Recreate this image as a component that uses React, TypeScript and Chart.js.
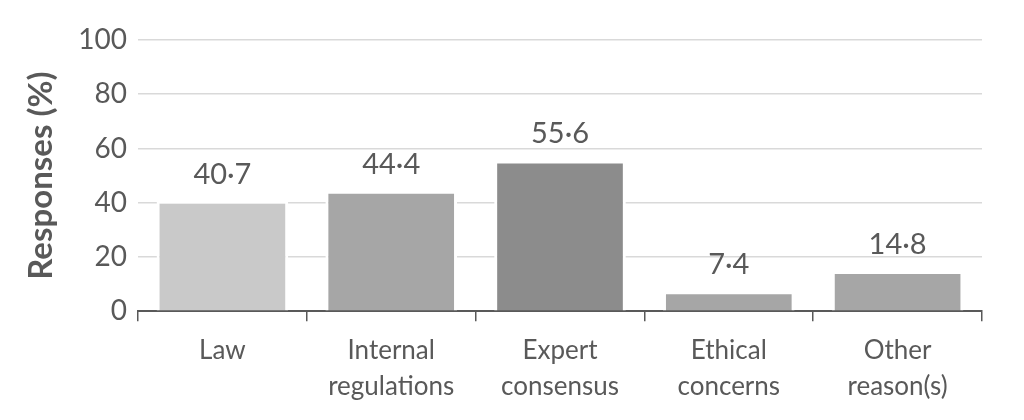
import React, { useEffect, useRef } from "react";
import { Chart, registerables } from "chart.js";

Chart.register(...registerables);

const categories: string[][] = [
  ["Law"],
  ["Internal", "regulations"],
  ["Expert", "consensus"],
  ["Ethical", "concerns"],
  ["Other", "reason(s)"],
];
const responses: number[] = [40.7, 44.4, 55.6, 7.4, 14.8];
const barColors: string[] = ["#c9c9c9", "#a6a6a6", "#8c8c8c", "#a6a6a6", "#a6a6a6"];
const yTicks: number[] = [0, 20, 40, 60, 80, 100];
const yTitle = "Responses (%)";

const FONT = "Lato, 'Open Sans', sans-serif";
const TEXT = "#595959";

const valueLabels = {
  id: "valueLabels",
  afterDatasetsDraw(chart: any) {
    const ctx = chart.ctx;
    const meta = chart.getDatasetMeta(0);
    ctx.save();
    ctx.font = `29px ${FONT}`;
    ctx.fillStyle = TEXT;
    ctx.textAlign = "center";
    ctx.textBaseline = "alphabetic";
    meta.data.forEach((el: any, i: number) => {
      const v = responses[i];
      const txt = v.toFixed(1).replace(".", "·");
      ctx.fillText(txt, el.x, el.y - 17);
    });
    ctx.restore();
  },
};

export default function App() {
  const ref = useRef<HTMLCanvasElement>(null);
  useEffect(() => {
    if (!ref.current) return;
    const chart = new Chart(ref.current, {
      type: "bar",
      data: {
        labels: categories,
        datasets: [
          {
            data: responses,
            backgroundColor: barColors,
            borderColor: "#ffffff",
            borderWidth: 3,
            borderSkipped: "start",
            barPercentage: 0.78,
            categoryPercentage: 1,
          },
        ],
      },
      options: {
        animation: false,
        responsive: true,
        maintainAspectRatio: false,
        layout: { padding: { left: 8, right: 42, top: 40, bottom: 4 } },
        plugins: { legend: { display: false }, tooltip: { enabled: false } },
        scales: {
          x: {
            offset: true,
            grid: {
              offset: true,
              drawOnChartArea: false,
              drawTicks: true,
              tickLength: 10,
              color: TEXT,
              lineWidth: 1.5,
            },
            border: { display: true, color: TEXT, width: 2 },
            ticks: {
              color: TEXT,
              font: { family: FONT, size: 26, lineHeight: 1.4 },
              padding: 11,
              maxRotation: 0,
              autoSkip: false,
            },
          },
          y: {
            min: 0,
            max: 100,
            afterBuildTicks: (scale: any) => {
              scale.ticks = yTicks.map((v) => ({ value: v }));
            },
            afterFit: (scale: any) => {
              scale.width = 130;
            },
            grid: { color: "#d9d9d9", lineWidth: 1.5, drawTicks: false },
            border: { display: false },
            ticks: {
              color: TEXT,
              font: { family: FONT, size: 28 },
              padding: 11,
            },
            title: {
              display: true,
              text: yTitle,
              color: TEXT,
              font: { family: FONT, size: 33, weight: "bold" },
              padding: { top: 14, bottom: 0 },
            },
          },
        },
      },
      plugins: [valueLabels],
    });
    return () => chart.destroy();
  }, []);
  return (
    <div style={{ position: "fixed", left: 0, top: 0, width: 1024, height: 420, background: "#fff" }}>
      <canvas ref={ref} />
    </div>
  );
}
